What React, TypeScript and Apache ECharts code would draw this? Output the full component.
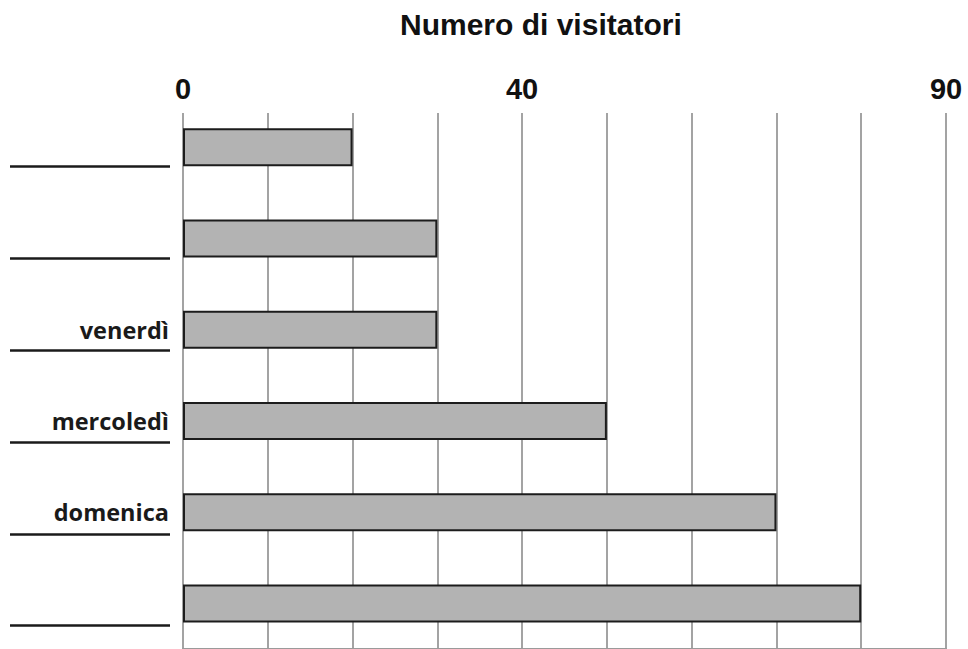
import React, { useEffect, useRef } from "react";
import * as echarts from "echarts";

const titleText = "Numero di visitatori";
const categories = ["", "", "venerdì", "mercoledì", "domenica", ""];
const visitors = [20, 30, 30, 50, 70, 80];
const shownTickLabels = [0, 40, 90];
const xMin = 0;
const xMax = 90;
const xStep = 10;

export default function App() {
  const ref = useRef<HTMLDivElement>(null);
  useEffect(() => {
    if (!ref.current) return;
    const chart = echarts.init(ref.current, undefined, { renderer: "svg" });
    const gridLeft = 183;
    const gridRight = 22;
    const option: any = {
      animation: false,
      backgroundColor: "#ffffff",
      title: {
        text: titleText,
        left: 395,
        top: 4,
        textStyle: {
          fontFamily: "Liberation Sans, Arial, sans-serif",
          fontWeight: "bold",
          fontSize: 30,
          color: "#111",
        },
      },
      grid: [
        { left: gridLeft, right: gridRight, top: 113, bottom: 0 },
        { left: gridLeft, right: gridRight, top: 101.6, height: 550.8 },
        { left: 170, width: 10, top: 166.6, height: 459 },
      ],
      xAxis: [
        {
          gridIndex: 0,
          type: "value",
          position: "top",
          min: xMin,
          max: xMax,
          interval: xStep,
          axisLine: { show: true, lineStyle: { color: "#9a9a9a", width: 2 } },
          axisTick: { show: false },
          splitLine: { show: true, lineStyle: { color: "#a3a3a3", width: 2 } },
          axisLabel: {
            margin: 10,
            fontFamily: "Liberation Sans, Arial, sans-serif",
            fontWeight: "bold",
            fontSize: 29,
            color: "#111",
            formatter: (v: number) => (shownTickLabels.includes(v) ? String(v) : ""),
          },
        },
        { gridIndex: 1, type: "value", min: xMin, max: xMax, show: false },
        { gridIndex: 2, type: "value", show: false },
      ],
      yAxis: [
        { gridIndex: 0, type: "value", show: false },
        {
          gridIndex: 1,
          type: "category",
          inverse: true,
          data: categories,
          axisLine: { show: false },
          axisTick: { show: false },
          axisLabel: {
            margin: 14,
            fontFamily: "Open Sans, Noto Sans, sans-serif",
            fontWeight: "bold",
            fontSize: 23.5,
            color: "#1a1a1a",
            padding: [5, 0, 0, 0],
          },
        },
        {
          gridIndex: 2,
          type: "category",
          inverse: true,
          data: categories.slice(1),
          axisLine: { show: false },
          axisLabel: { show: false },
          axisTick: {
            show: true,
            inside: false,
            length: 160,
            lineStyle: { color: "#1a1a1a", width: 2.5 },
          },
        },
      ],
      series: [
        {
          type: "bar",
          xAxisIndex: 1,
          yAxisIndex: 1,
          data: visitors,
          barWidth: 38,
          silent: true,
          itemStyle: { color: "#b3b3b3", borderColor: "#1c1c1c", borderWidth: 2 },
        },
      ],
    };
    chart.setOption(option);
    return () => chart.dispose();
  }, []);
  return (
    <div
      ref={ref}
      style={{ position: "absolute", left: 0, top: 0, width: 968, height: 649 }}
    />
  );
}
